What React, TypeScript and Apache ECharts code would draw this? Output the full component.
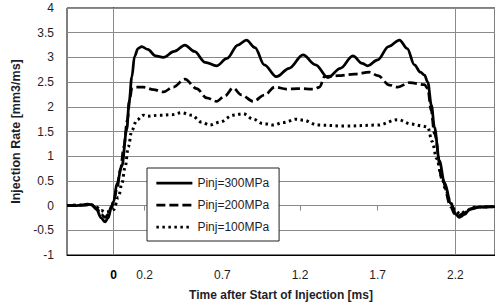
import React, { useEffect, useRef } from "react";
import * as echarts from "echarts";

const seriesNames = ["Pinj=300MPa", "Pinj=200MPa", "Pinj=100MPa"];
const xTickLabels = [0, 0.2, 0.7, 1.2, 1.7, 2.2];
const zeroLineTicks = [0.2, 0.7, 1.2, 1.7];
const referenceTimes = [0, 2.2];

const t300 = [-0.30, -0.25, -0.20, -0.17, -0.14, -0.11, -0.08, -0.055, -0.035, -0.015, 0.00, 0.022, 0.053, 0.085, 0.10, 0.117, 0.135, 0.157, 0.181, 0.22, 0.27, 0.32, 0.39, 0.459, 0.52, 0.59, 0.663, 0.73, 0.80, 0.855, 0.91, 0.97, 1.048, 1.13, 1.219, 1.30, 1.38, 1.46, 1.54, 1.60, 1.636, 1.70, 1.77, 1.84, 1.89, 1.936, 1.975, 2.001, 2.022, 2.046, 2.065, 2.097, 2.129, 2.172, 2.204, 2.225, 2.26, 2.29, 2.354, 2.455];
const v300 = [0.00, 0.00, 0.01, 0.03, 0.02, -0.08, -0.25, -0.33, -0.25, -0.05, 0.08, 0.45, 0.80, 1.55, 2.10, 2.60, 3.02, 3.18, 3.22, 3.16, 3.03, 3.00, 3.12, 3.25, 3.12, 2.90, 2.83, 2.98, 3.25, 3.35, 3.20, 2.85, 2.61, 2.78, 3.05, 2.85, 2.59, 2.78, 3.03, 2.88, 2.83, 2.95, 3.22, 3.35, 3.18, 2.85, 2.70, 2.64, 2.50, 2.03, 1.59, 0.91, 0.47, 0.04, -0.18, -0.24, -0.18, -0.08, -0.03, -0.02];

const t200 = [-0.30, -0.20, -0.15, -0.11, -0.08, -0.055, -0.035, -0.015, 0.00, 0.022, 0.045, 0.066, 0.088, 0.106, 0.117, 0.14, 0.191, 0.256, 0.32, 0.384, 0.459, 0.534, 0.599, 0.663, 0.716, 0.769, 0.823, 0.898, 0.973, 1.037, 1.112, 1.187, 1.294, 1.326, 1.358, 1.444, 1.551, 1.647, 1.701, 1.776, 1.829, 1.904, 2.001, 2.022, 2.044, 2.065, 2.116, 2.172, 2.193, 2.22, 2.26, 2.30, 2.36, 2.455];
const v200 = [0.00, 0.01, 0.02, -0.05, -0.18, -0.24, -0.18, -0.02, 0.08, 0.35, 0.75, 1.19, 1.73, 2.20, 2.37, 2.40, 2.40, 2.35, 2.30, 2.40, 2.56, 2.37, 2.18, 2.11, 2.22, 2.38, 2.24, 2.11, 2.24, 2.40, 2.36, 2.37, 2.36, 2.40, 2.61, 2.63, 2.66, 2.70, 2.63, 2.44, 2.40, 2.49, 2.45, 2.37, 1.93, 1.46, 0.51, -0.03, -0.16, -0.20, -0.14, -0.06, -0.03, -0.02];

const t100 = [-0.30, -0.20, -0.15, -0.11, -0.08, -0.05, -0.025, 0.00, 0.031, 0.053, 0.074, 0.095, 0.117, 0.149, 0.191, 0.213, 0.299, 0.374, 0.438, 0.502, 0.566, 0.62, 0.684, 0.769, 0.834, 0.898, 0.962, 1.026, 1.091, 1.177, 1.219, 1.315, 1.487, 1.701, 1.829, 1.915, 1.99, 2.022, 2.05, 2.08, 2.11, 2.14, 2.17, 2.20, 2.23, 2.27, 2.33, 2.455];
const v100 = [0.00, 0.01, 0.02, -0.03, -0.10, -0.13, -0.12, -0.08, 0.17, 0.44, 0.78, 1.19, 1.52, 1.73, 1.83, 1.81, 1.83, 1.84, 1.88, 1.83, 1.69, 1.63, 1.69, 1.83, 1.86, 1.75, 1.66, 1.63, 1.68, 1.75, 1.73, 1.63, 1.61, 1.63, 1.74, 1.65, 1.61, 1.59, 1.30, 0.95, 0.60, 0.30, 0.05, -0.10, -0.17, -0.10, -0.03, -0.02];

const zip = (t: number[], v: number[]) => t.map((x, i) => [x, v[i]]);

const FONT = "'Liberation Sans', Arial, sans-serif";
const TEXT = "#1e1e28";
const GRID = "#8a8a8a";

export default function App() {
  const ref = useRef<HTMLDivElement>(null);
  useEffect(() => {
    if (!ref.current) return;
    const chart = echarts.init(ref.current, undefined, { renderer: "svg" });
    const lineCommon = {
      type: "line" as const,
      symbol: "none",
      smooth: 0.35,
      smoothMonotone: "x" as const,
      xAxisIndex: 0,
      yAxisIndex: 0,
    };
    chart.setOption({
      animation: false,
      backgroundColor: "#ffffff",
      textStyle: { fontFamily: FONT },
      grid: {
        left: 67,
        top: 8,
        width: 429,
        height: 247,
        show: true,
        borderColor: "#000",
        borderWidth: 1,
        backgroundColor: "transparent",
      },
      legend: {
        data: seriesNames,
        orient: "vertical",
        left: 147,
        top: 168,
        backgroundColor: "#fff",
        borderColor: "#222",
        borderWidth: 1,
        padding: [9, 10, 8, 8],
        itemWidth: 36,
        itemHeight: 14,
        itemGap: 10,
        lineStyle: { width: 2.75 },
        itemStyle: { color: "transparent", borderColor: "transparent", borderWidth: 0, opacity: 0 },
        textStyle: { fontSize: 12, color: TEXT, fontFamily: FONT },
      },
      xAxis: [
        {
          type: "value",
          min: -0.3,
          max: 2.455,
          position: "bottom",
          name: "Time after Start of Injection [ms]",
          nameLocation: "middle",
          nameGap: 34,
          nameTextStyle: { fontSize: 12, fontWeight: "bold", color: TEXT, fontFamily: FONT },
          axisLine: { show: true, onZero: false, lineStyle: { color: "#000" } },
          axisTick: { show: false },
          splitLine: { show: false },
          axisLabel: {
            customValues: xTickLabels,
            margin: 14,
            fontSize: 12,
            color: TEXT,
            fontFamily: FONT,
            formatter: (v: number) => (v === 0 ? "{b|0}" : String(v)),
            rich: { b: { fontWeight: "bold", fontSize: 12, color: "#000", fontFamily: FONT } },
          },
        },
        {
          type: "value",
          min: -0.3,
          max: 2.455,
          position: "top",
          axisLine: { show: true, onZero: true, lineStyle: { color: GRID } },
          axisTick: { show: true, inside: true, length: 5, customValues: zeroLineTicks, lineStyle: { color: GRID } },
          axisLabel: { show: false },
          splitLine: { show: false },
        },
      ],
      yAxis: {
        type: "value",
        min: -1,
        max: 4,
        interval: 0.5,
        name: "Injection Rate [mm3/ms]",
        nameLocation: "middle",
        nameRotate: 90,
        nameGap: 40,
        nameTextStyle: { fontSize: 12.5, fontWeight: "bold", color: TEXT, fontFamily: FONT },
        axisLine: { show: true, lineStyle: { color: "#000" } },
        axisTick: { show: false },
        axisLabel: { margin: 13, fontSize: 12, color: TEXT, fontFamily: FONT },
        splitLine: { show: true, lineStyle: { color: GRID, width: 1 } },
      },
      series: [
        {
          ...lineCommon,
          name: seriesNames[0],
          data: zip(t300, v300),
          lineStyle: { color: "#000", width: 2.75, type: "solid" },
          itemStyle: { color: "#000" },
          z: 5,
          markLine: {
            silent: true,
            symbol: "none",
            label: { show: false },
            lineStyle: { color: GRID, width: 1, type: "solid" },
            data: referenceTimes.map((t) => ({ xAxis: t })),
            z: 1,
          },
        },
        {
          ...lineCommon,
          name: seriesNames[1],
          data: zip(t200, v200),
          lineStyle: { color: "#000", width: 2.75, type: [9, 4] },
          itemStyle: { color: "#000" },
          z: 4,
        },
        {
          ...lineCommon,
          name: seriesNames[2],
          data: zip(t100, v100),
          lineStyle: { color: "#000", width: 3, type: [2.5, 3.5] },
          itemStyle: { color: "#000" },
          z: 3,
        },
      ],
    });
    return () => chart.dispose();
  }, []);
  return (
    <div
      ref={ref}
      style={{ position: "fixed", left: 0, top: 0, width: 495, height: 306, background: "#fff" }}
    />
  );
}
